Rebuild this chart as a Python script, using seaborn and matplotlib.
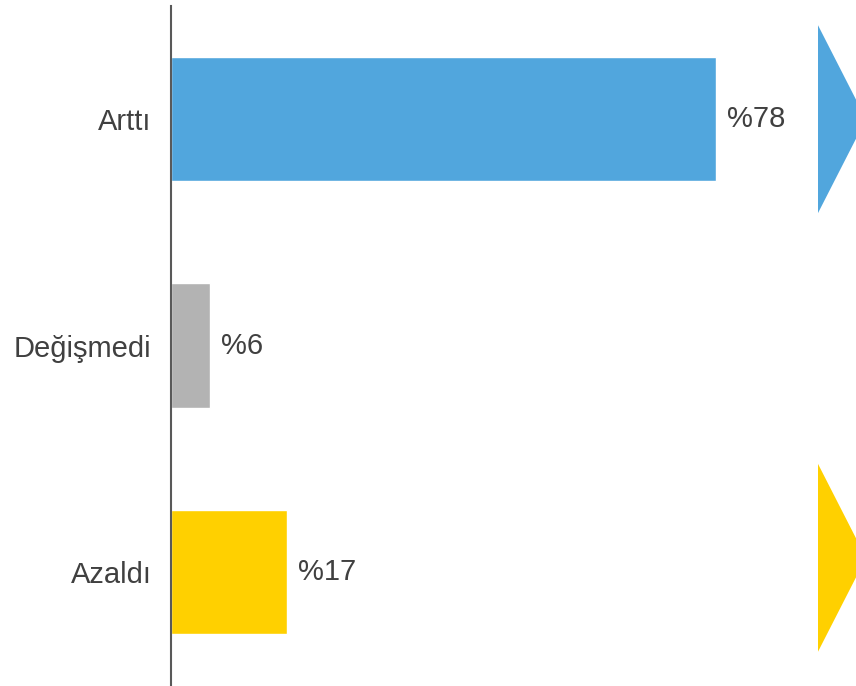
import matplotlib
matplotlib.use("Agg")
import matplotlib.pyplot as plt
import seaborn as sns
import pandas as pd
from matplotlib.patches import Polygon

categories = ["Arttı", "Değişmedi", "Azaldı"]
values = [77.8, 5.5, 16.6]
value_labels = ["%78", "%6", "%17"]
colors = ["#51A6DD", "#B3B3B3", "#FFD000"]

sns.set_theme(style="white")
plt.rcParams["font.family"] = ["Liberation Sans", "DejaVu Sans"]

df = pd.DataFrame({"cat": categories, "val": values})

fig = plt.figure(figsize=(8.56, 6.86), dpi=100)
ax = fig.add_axes([171 / 856, 1 / 686, (856 - 171) / 856, 679 / 686])

sns.barplot(data=df, y="cat", x="val", hue="cat", palette=colors,
            orient="h", width=0.55, legend=False, ax=ax, saturation=1)

for cont, lab in zip(ax.containers, value_labels):
    ax.bar_label(cont, labels=[lab], padding=8, fontsize=21, color="#404040")

ax.set_xlim(0, (856 - 171) / 7.0)
ax.set_ylim(2.5, -0.5)
ax.set_xlabel("")
ax.set_ylabel("")
ax.set_xticks([])
ax.tick_params(axis="y", length=0, pad=14, labelsize=21, labelcolor="#404040")

for s in ["top", "right", "bottom"]:
    ax.spines[s].set_visible(False)
ax.spines["left"].set_color("#595959")
ax.spines["left"].set_linewidth(1.5)

# decorative arrow heads at the right edge
x0 = (818 - 171) / 7.0
x1 = (866 - 171) / 7.0
ax.add_patch(Polygon([[x0, -0.415], [x1, 0.0], [x0, 0.415]], closed=True,
                     facecolor=colors[0], edgecolor="none", clip_on=True))
ax.add_patch(Polygon([[x0, 2 - 0.477], [x1, 2 - 0.062], [x0, 2 + 0.353]], closed=True,
                     facecolor=colors[2], edgecolor="none", clip_on=True))

fig.savefig("out.png", dpi=100, facecolor="white")
